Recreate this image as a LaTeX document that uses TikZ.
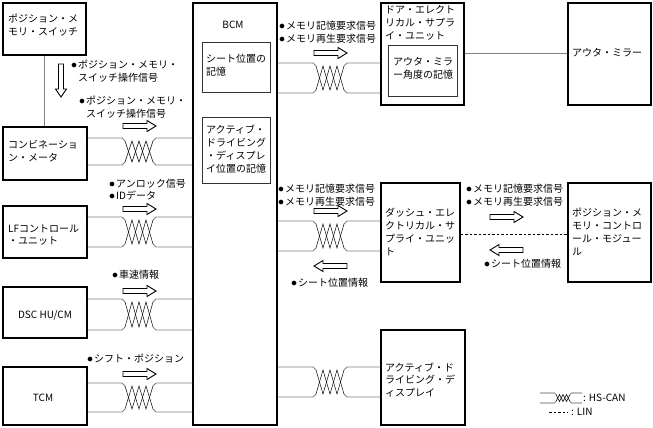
\documentclass[tikz,border=0pt]{standalone}
\usepackage{fontspec}
\setmainfont{Noto Sans CJK JP}
\newcommand\bul{\makebox[7pt][l]{\fontsize{13}{13}\selectfont$\bullet$}}
\newcommand\twpair[8]{%
 \draw[#8] (#1 |- 0,#3) -- (#5-#7,#3) -- (#5,#3+#7) (#5+4*#6,#3+#7) -- (#5+4*#6+#7,#3) -- (#2 |- 0,#3);
 \draw[#8] (#1 |- 0,#4) -- (#5-#7,#4) -- (#5,#4-#7) (#5+4*#6,#4-#7) -- (#5+4*#6+#7,#4) -- (#2 |- 0,#4);
 \draw[zz] (#5,#3+#7) -- (#5+#6,#4-#7) -- (#5+2*#6,#3+#7) -- (#5+3*#6,#4-#7) -- (#5+4*#6,#3+#7);
 \draw[zz] (#5,#4-#7) -- (#5+#6,#3+#7) -- (#5+2*#6,#4-#7) -- (#5+3*#6,#3+#7) -- (#5+4*#6,#4-#7);
}
\newcommand\rarr[2]{\draw[arr] (#1,#2-2.5) -- (#1+24,#2-2.5) -- (#1+24,#2-5.5) -- (#1+33,#2) -- (#1+24,#2+5.5) -- (#1+24,#2+2.5) -- (#1,#2+2.5) -- cycle;}
\newcommand\larr[2]{\draw[arr] (#1+33,#2-2.5) -- (#1+9,#2-2.5) -- (#1+9,#2-5.5) -- (#1,#2) -- (#1+9,#2+5.5) -- (#1+9,#2+2.5) -- (#1+33,#2+2.5) -- cycle;}
\begin{document}
\begin{tikzpicture}[x=1pt,y=-1pt,
  box/.style={draw=black,line width=1.5pt,rectangle,inner sep=0pt,fill=white},
  ibox/.style={draw=black!80,line width=0.9pt,rectangle,inner sep=0pt},
  txt/.style={inner sep=0pt,align=left,font=\fontsize{10}{12.8}\selectfont},
  wire/.style={draw=black!50,line width=0.8pt},
  lgwire/.style={draw=black!70,line width=0.6pt},
  zz/.style={draw=black,line width=0.5pt},
  arr/.style={draw=black,fill=white,line width=0.9pt,line join=miter},
  lin/.style={draw=black,line width=0.6pt,dash pattern=on 2.5pt off 2pt}]
\useasboundingbox (0,0) rectangle (653,428);
% boxes
\node[box,minimum width=83pt,minimum height=52pt] (pms) at (44.5,29) {};
\node[box,minimum width=84pt,minimum height=53pt] (cm) at (45,153.5) {};
\node[box,minimum width=84pt,minimum height=52pt] (lf) at (45,232) {};
\node[box,minimum width=84pt,minimum height=51pt] (dsc) at (45,312.5) {};
\node[box,minimum width=84pt,minimum height=58pt] (tcm) at (45,396) {};
\node[box,minimum width=84pt,minimum height=422pt] (bcm) at (235,214) {};
\node[ibox,minimum width=68pt,minimum height=50pt] (bi1) at (236,67) {};
\node[ibox,minimum width=68pt,minimum height=66pt] (bi2) at (236,150) {};
\node[box,minimum width=83pt,minimum height=102pt] (door) at (422.5,54) {};
\node[ibox,minimum width=69pt,minimum height=51pt] (di) at (422.5,70.5) {};
\node[box,minimum width=83pt,minimum height=102pt] (om) at (609.5,54) {};
\node[box,minimum width=79pt,minimum height=99pt] (dash) at (420.5,232.5) {};
\node[box,minimum width=83pt,minimum height=99pt] (pmcm) at (609.5,232.5) {};
\node[box,minimum width=84pt,minimum height=95pt] (add) at (423,377.5) {};
% box texts
\node[txt,anchor=west] (pmsT) at (8,25.5) {ポジション・メ\\モリ・スイッチ};
\node[txt] (bcmT) at (233,25) {BCM};
\node[txt,anchor=west] (bi1T) at (206,65) {シート位置の\\記憶};
\node[txt,anchor=west] (bi2T) at (206,149) {アクティブ・\\ドライビング\\・ディスプレ\\イ位置の記憶};
\node[txt,anchor=west] (doorT) at (385,23) {ドア・エレクト\\リカル・サプラ\\イ・ユニット};
\node[txt,anchor=west] (diT) at (393,68) {アウタ・ミラ\\ー角度の記憶};
\node[txt,anchor=west] (omT) at (572,53) {アウタ・ミラー};
\node[txt,anchor=west] (cmT) at (8,151) {コンビネーショ\\ン・メータ};
\node[txt,anchor=west] (lfT) at (8,235) {LFコントロール\\・ユニット};
\node[txt] (dscT) at (45,315) {DSC HU/CM};
\node[txt] (tcmT) at (43,398) {TCM};
\node[txt,anchor=west] (dashT) at (385,232) {ダッシュ・エレ\\クトリカル・サ\\プライ・ユニッ\\ト};
\node[txt,anchor=west] (pmcmT) at (572,232) {ポジション・メ\\モリ・コントロ\\ール・モジュー\\ル};
\node[txt,anchor=west] (addT) at (385,380) {アクティブ・ド\\ライビング・デ\\ィスプレイ};
% connectors
\draw[wire] (pms.south) -- (pms.south |- cm.north);
\twpair{cm.east}{bcm.west}{138}{165}{125}{7}{3}{wire}
\twpair{lf.east}{bcm.west}{217}{247}{125}{7}{3}{wire}
\twpair{dsc.east}{bcm.west}{299}{330}{125}{7}{3}{wire}
\twpair{tcm.east}{bcm.west}{383}{412}{125}{7}{3}{wire}
\twpair{bcm.east}{door.west}{63}{93}{316}{7}{3}{wire}
\twpair{bcm.east}{dash.west}{221}{251}{316}{7}{3}{wire}
\twpair{bcm.east}{add.west}{367}{397}{316}{7}{3}{wire}
\draw[wire] (door.east |- 0,53) -- (om.west |- 0,53);
\draw[lin] (dash.east |- 0,234) -- (pmcm.west |- 0,234);
% arrows
\draw[arr] (58.5,64) -- (63.5,64) -- (63.5,89) -- (66.5,89) -- (61,97) -- (55.5,89) -- (58.5,89) -- cycle;
\rarr{123}{126}
\rarr{123}{209}
\rarr{123}{291}
\rarr{123}{374}
\rarr{314}{53}
\rarr{314}{211}
\larr{314}{266}
\rarr{490}{217}
\larr{490}{250}
% labels
\node[txt,anchor=west] (l1) at (71,71.5) {\bul ポジション・メモリ・\\\hspace*{7pt}スイッチ操作信号};
\node[txt,anchor=west] (l2) at (79,107) {\bul ポジション・メモリ・\\\hspace*{7pt}スイッチ操作信号};
\node[txt,anchor=west] (l3) at (279,32.5) {\bul メモリ記憶要求信号\\\bul メモリ再生要求信号};
\node[txt,anchor=west] (l4) at (109,189.5) {\bul アンロック信号\\\bul IDデータ};
\node[txt,anchor=west] (l5) at (112,275) {\bul 車速情報};
\node[txt,anchor=west] (l6) at (87,359) {\bul シフト・ポジション};
\node[txt,anchor=west] (l7) at (278,195.5) {\bul メモリ記憶要求信号\\\bul メモリ再生要求信号};
\node[txt,anchor=west] (l8) at (291,283) {\bul シート位置情報};
\node[txt,anchor=west] (l9) at (466,195) {\bul メモリ記憶要求信号\\\bul メモリ再生要求信号};
\node[txt,anchor=west] (l10) at (484,264) {\bul シート位置情報};
% legend
\coordinate (lgA) at (540,393);
\coordinate (lgB) at (582,393);
\twpair{lgA}{lgB}{393}{403}{556}{3.5}{1.5}{lgwire}
\coordinate (lgC) at (549,412);
\coordinate (lgD) at (568,412);
\draw[lin] (lgC) -- (lgD);
\node[txt,anchor=west] (lg1) at (583,398) {: HS-CAN};
\node[txt,anchor=west] (lg2) at (571,412) {: LIN};
\end{tikzpicture}
\end{document}
